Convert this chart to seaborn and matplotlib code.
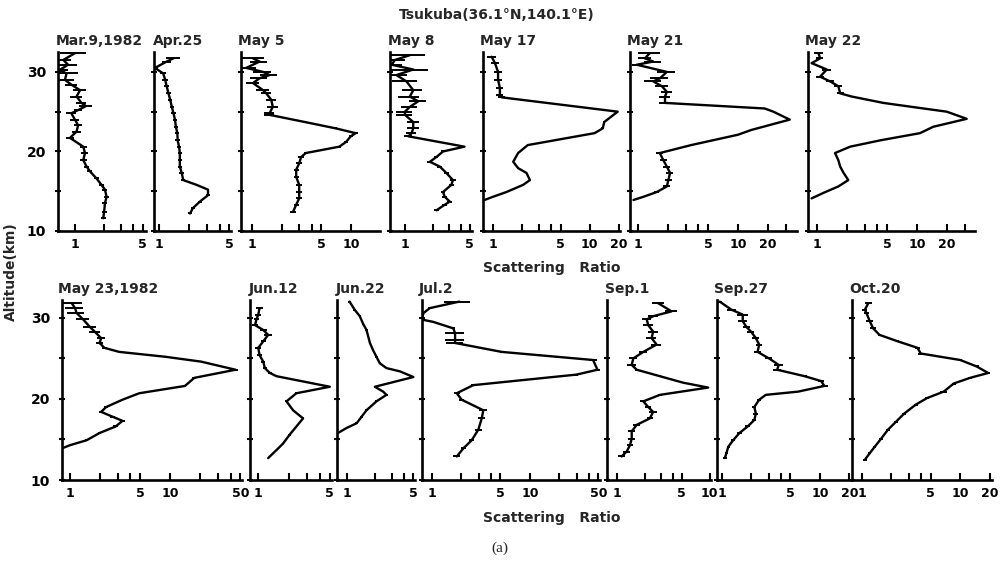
import numpy as np
import pandas as pd
import matplotlib
matplotlib.use("Agg")
import matplotlib.pyplot as plt
from matplotlib.ticker import FixedLocator, FixedFormatter
import seaborn as sns

# ---------------- lidar profiles: altitude (km), scattering ratio, relative error ----------------
mar9_alt = [32.35, 31.5, 30.9, 30.25, 29.8, 29.0, 28.4, 27.7, 26.9, 26.1, 25.7, 25.2, 24.8, 24.0, 23.3,
            22.5, 21.7, 20.6, 19.8, 18.9, 18.1, 17.5, 16.6, 15.8, 15.2, 14.3, 13.5, 12.4, 11.6]
mar9_ratio = [1.0, 0.76, 0.85, 0.70, 0.82, 0.79, 0.92, 1.13, 1.04, 1.17, 1.30, 1.08, 0.92, 1.0, 1.08,
              1.04, 0.89, 1.22, 1.27, 1.22, 1.32, 1.43, 1.67, 1.88, 2.04, 2.12, 2.04, 2.0, 1.96]
mar9_err = [0.3, 0.2, 0.25, 0.2, 0.3, 0.25, 0.15, 0.15, 0.15, 0.12, 0.15, 0.1, 0.12, 0.1, 0.1,
            0.1, 0.1, 0.08, 0.08, 0.08, 0.06, 0.06, 0.05, 0.05, 0.06, 0.06, 0.06, 0.06, 0.06]

apr25_alt = [31.7, 31.3, 30.5, 29.8, 29.0, 28.2, 27.3, 26.5, 25.6, 24.8, 24.0, 23.1, 22.3, 21.4, 20.6,
             19.8, 18.9, 18.1, 17.3, 16.4, 15.8, 15.2, 14.5, 13.7, 12.9, 12.2]
apr25_ratio = [1.39, 1.19, 0.91, 1.10, 1.15, 1.19, 1.24, 1.29, 1.34, 1.39, 1.44, 1.47, 1.52, 1.53, 1.58,
               1.61, 1.61, 1.61, 1.68, 1.74, 2.36, 3.07, 3.07, 2.55, 2.18, 2.03]
apr25_err = [0.15, 0.1, 0.08, 0.07, 0.06, 0.06, 0.05, 0.05, 0.05, 0.05, 0.05, 0.05, 0.05, 0.05, 0.05,
             0.05, 0.05, 0.05, 0.05, 0.05, 0.0, 0.0, 0.04, 0.05, 0.05, 0.05]

may5_alt = [31.7, 31.3, 30.5, 30.0, 29.6, 29.2, 28.6, 27.7, 27.3, 26.5, 25.6, 24.8, 24.6, 23.5, 22.9,
            22.3, 21.9, 21.2, 20.6, 19.8, 19.3, 18.5, 17.7, 16.8, 15.8, 14.9, 14.1, 13.3, 12.4]
may5_ratio = [1.03, 1.2, 0.88, 1.30, 1.51, 1.2, 1.03, 1.30, 1.40, 1.57, 1.63, 1.51, 1.51, 4.1, 7.0,
              11.1, 9.9, 8.9, 7.6, 3.5, 3.14, 3.0, 2.8, 2.8, 3.0, 3.0, 3.0, 2.8, 2.6]
may5_err = [0.3, 0.2, 0.25, 0.2, 0.2, 0.2, 0.15, 0.15, 0.12, 0.12, 0.12, 0.12, 0.12, 0.0, 0.03,
            0.06, 0.05, 0.05, 0.04, 0.04, 0.06, 0.06, 0.06, 0.06, 0.06, 0.06, 0.06, 0.06, 0.06]

may8_alt = [32.1, 31.5, 30.9, 30.3, 29.6, 28.8, 27.7, 26.9, 26.3, 25.6, 25.0, 24.6, 23.7, 22.9, 22.3,
            21.9, 20.6, 20.0, 19.3, 18.7, 18.1, 17.3, 16.4, 15.8, 14.9, 14.3, 13.7, 13.3, 12.6]
may8_ratio = [1.13, 0.78, 0.72, 1.23, 0.81, 1.04, 1.23, 1.13, 1.39, 1.13, 1.0, 1.0, 1.23, 1.23, 1.18,
              1.09, 4.4, 2.58, 2.19, 1.86, 2.38, 2.8, 3.3, 3.17, 2.58, 2.69, 3.05, 2.69, 2.19]
may8_err = [0.45, 0.3, 0.3, 0.45, 0.3, 0.3, 0.25, 0.25, 0.2, 0.2, 0.2, 0.2, 0.15, 0.15, 0.12,
            0.1, 0.0, 0.05, 0.05, 0.06, 0.06, 0.06, 0.07, 0.06, 0.06, 0.06, 0.06, 0.06, 0.06]

may17_alt = [31.9, 31.1, 30.0, 29.0, 28.0, 27.1, 26.8, 25.0, 23.7, 22.9, 22.3, 20.8, 19.8, 18.7,
             17.9, 17.3, 16.4, 15.8, 14.9, 14.3, 13.9]
may17_ratio = [0.97, 1.05, 1.13, 1.13, 1.18, 1.18, 1.23, 19.4, 14.1, 13.6, 11.2, 2.29, 1.82, 1.62,
               1.82, 2.22, 2.41, 2.05, 1.38, 1.0, 0.82]
may17_err = [0.1, 0.1, 0.1, 0.1, 0.08, 0.08, 0.08, 0.0, 0.03, 0.03, 0.0, 0.0, 0.0, 0.0,
             0.0, 0.0, 0.0, 0.0, 0.0, 0.0, 0.0]

may21_alt = [32.4, 31.7, 31.3, 30.9, 30.0, 29.2, 28.8, 28.2, 27.5, 26.9, 26.1, 25.4, 25.0, 24.0, 22.7,
             22.1, 20.8, 19.8, 18.9, 18.1, 17.3, 16.4, 15.6, 14.9, 14.3, 13.9]
may21_ratio = [1.32, 1.17, 1.42, 0.97, 1.94, 1.66, 1.42, 1.73, 1.94, 1.86, 1.86, 18.5, 22.6, 33.0, 13.6,
               10.0, 3.4, 1.65, 1.79, 1.94, 2.09, 2.01, 1.94, 1.54, 1.13, 0.9]
may21_err = [0.25, 0.15, 0.2, 0.1, 0.2, 0.2, 0.2, 0.15, 0.12, 0.12, 0.12, 0.0, 0.0, 0.0, 0.0,
             0.0, 0.0, 0.08, 0.08, 0.08, 0.08, 0.08, 0.08, 0.06, 0.0, 0.0]

may22_alt = [32.4, 31.7, 31.1, 30.3, 29.4, 28.8, 28.2, 27.3, 26.9, 26.1, 25.4, 25.0, 24.1, 23.1, 22.3,
             21.4, 20.6, 19.8, 18.9, 18.1, 17.3, 16.4, 15.6, 14.8, 14.1]
may22_ratio = [1.03, 1.07, 0.88, 1.25, 1.07, 1.35, 1.63, 1.70, 2.22, 4.6, 11.6, 19.8, 31.4, 14.5, 10.7,
               4.3, 2.14, 1.51, 1.63, 1.70, 1.84, 2.05, 1.63, 1.16, 0.88]
may22_err = [0.1, 0.08, 0.0, 0.1, 0.1, 0.1, 0.1, 0.08, 0.0, 0.0, 0.0, 0.0, 0.0, 0.0, 0.0,
             0.0, 0.0, 0.0, 0.0, 0.0, 0.0, 0.0, 0.0, 0.0, 0.0]

may23_alt = [31.8, 31.2, 30.6, 29.8, 28.9, 28.3, 27.5, 26.9, 26.3, 25.8, 25.2, 24.6, 23.6, 22.6, 21.6,
             20.7, 19.9, 19.0, 18.4, 17.8, 17.3, 16.6, 15.8, 14.9, 14.3, 13.9]
may23_ratio = [1.04, 1.12, 1.16, 1.35, 1.57, 1.76, 2.04, 1.97, 2.2, 3.09, 8.9, 20.3, 44.8, 17.4, 14.0,
               4.9, 3.33, 2.29, 2.04, 2.66, 3.33, 2.85, 1.97, 1.46, 1.0, 0.83]
may23_err = [0.25, 0.2, 0.2, 0.15, 0.15, 0.12, 0.1, 0.08, 0.06, 0.0, 0.0, 0.0, 0.05, 0.05, 0.0,
             0.0, 0.0, 0.05, 0.05, 0.05, 0.06, 0.05, 0.04, 0.04, 0.0, 0.0]

jun12_alt = [31.2, 30.4, 29.8, 29.1, 28.5, 27.9, 27.1, 26.3, 25.4, 24.6, 23.8, 23.2, 22.8, 21.5, 20.7,
             19.7, 18.6, 17.6, 16.6, 15.6, 14.5, 13.7, 12.7]
jun12_ratio = [1.04, 1.01, 0.97, 0.94, 1.13, 1.26, 1.13, 1.01, 1.04, 1.13, 1.17, 1.31, 1.52, 5.0, 2.37,
               1.90, 2.2, 2.75, 2.37, 2.04, 1.76, 1.52, 1.26]
jun12_err = [0.08, 0.06, 0.06, 0.06, 0.08, 0.08, 0.06, 0.06, 0.06, 0.05, 0.05, 0.04, 0.0, 0.0, 0.03,
             0.03, 0.0, 0.03, 0.0, 0.03, 0.0, 0.0, 0.0]

jun22_alt = [32.0, 31.0, 30.2, 29.3, 28.5, 27.7, 26.9, 26.0, 25.2, 24.4, 23.8, 23.4, 22.7, 21.5, 20.9,
             20.5, 19.7, 18.6, 17.8, 17.0, 16.4, 15.8]
jun22_ratio = [1.07, 1.21, 1.37, 1.48, 1.61, 1.68, 1.75, 1.89, 2.05, 2.22, 2.61, 3.61, 5.0, 1.97, 2.41,
               2.61, 2.05, 1.61, 1.43, 1.27, 0.99, 0.81]
jun22_err = [0.03, 0.03, 0.03, 0.03, 0.03, 0.03, 0.03, 0.03, 0.03, 0.03, 0.0, 0.0, 0.0, 0.03, 0.0,
             0.03, 0.03, 0.03, 0.03, 0.03, 0.0, 0.0]

jul2_alt = [32.0, 31.2, 30.6, 29.8, 29.5, 28.7, 28.1, 27.3, 26.9, 25.8, 24.8, 23.6, 23.0, 21.7, 20.7,
            19.9, 18.6, 17.6, 16.2, 14.9, 13.9, 12.9]
jul2_ratio = [1.9, 0.95, 0.82, 0.78, 1.03, 1.65, 1.72, 1.72, 1.72, 5.14, 44.2, 49.0, 30.0, 2.64, 1.79,
              2.01, 3.34, 3.22, 2.97, 2.54, 2.09, 1.79]
jul2_err = [0.3, 0.05, 0.0, 0.0, 0.0, 0.05, 0.22, 0.22, 0.2, 0.03, 0.1, 0.05, 0.03, 0.05, 0.07,
            0.06, 0.1, 0.08, 0.08, 0.06, 0.06, 0.08]

sep1_alt = [31.8, 30.8, 30.2, 29.8, 29.1, 28.3, 27.5, 26.7, 25.8, 25.0, 24.2, 23.6, 22.8, 22.0, 21.4,
            20.5, 19.7, 19.0, 18.4, 17.6, 16.8, 16.0, 15.1, 14.3, 13.5, 12.9]
sep1_ratio = [2.78, 3.87, 2.45, 2.09, 2.17, 2.45, 2.36, 2.67, 1.92, 1.50, 1.44, 1.63, 2.9, 5.17, 9.6,
              2.9, 1.92, 2.17, 2.45, 2.26, 1.63, 1.44, 1.44, 1.38, 1.27, 1.12]
sep1_err = [0.15, 0.15, 0.12, 0.1, 0.12, 0.12, 0.12, 0.12, 0.1, 0.1, 0.1, 0.05, 0.03, 0.0, 0.0,
            0.05, 0.08, 0.08, 0.1, 0.08, 0.08, 0.08, 0.08, 0.08, 0.08, 0.08]

sep27_alt = [32.0, 31.0, 30.4, 29.6, 28.9, 28.3, 27.5, 26.7, 25.8, 25.0, 24.2, 23.6, 22.8, 22.2, 21.6,
             20.9, 20.5, 19.9, 19.0, 18.2, 17.4, 16.6, 15.8, 14.9, 14.1, 13.3, 12.7]
sep27_ratio = [0.95, 1.25, 1.63, 1.63, 1.77, 1.98, 2.22, 2.40, 2.31, 3.02, 3.8, 3.66, 7.0, 10.3, 11.1,
               6.0, 2.8, 2.4, 2.14, 2.22, 2.14, 1.83, 1.51, 1.3, 1.16, 1.11, 1.07]
sep27_err = [0.05, 0.1, 0.12, 0.1, 0.08, 0.08, 0.08, 0.08, 0.08, 0.08, 0.1, 0.1, 0.05, 0.08, 0.08,
             0.0, 0.0, 0.05, 0.05, 0.06, 0.05, 0.05, 0.05, 0.05, 0.04, 0.04, 0.04]

oct20_alt = [31.8, 31.0, 30.6, 29.6, 28.7, 27.9, 27.1, 26.3, 25.6, 24.8, 24.0, 23.2, 22.6, 21.9, 20.9,
             20.1, 19.3, 18.2, 17.2, 16.2, 15.1, 14.1, 13.3, 12.5]
oct20_ratio = [1.17, 1.08, 1.12, 1.21, 1.31, 1.52, 2.33, 3.69, 3.98, 10.0, 14.7, 19.2, 12.6, 8.6, 6.8,
               4.6, 3.55, 2.71, 2.24, 1.85, 1.58, 1.36, 1.21, 1.08]
oct20_err = [0.08, 0.06, 0.06, 0.08, 0.08, 0.04, 0.04, 0.05, 0.06, 0.05, 0.05, 0.05, 0.05, 0.05, 0.08,
             0.05, 0.05, 0.05, 0.04, 0.04, 0.04, 0.04, 0.04, 0.04]

# panel titles, x ranges and labelled ticks
titles = ["Mar.9,1982", "Apr.25", "May 5", "May 8", "May 17", "May 21", "May 22",
          "May 23,1982", "Jun.12", "Jun.22", "Jul.2", "Sep.1", "Sep.27", "Oct.20"]
xlims = [(0.67, 5.4), (0.89, 5.2), (0.78, 19.5), (0.69, 5.3), (0.79, 20.5), (0.83, 39.0), (0.81, 38.0),
         (0.83, 52.0), (0.84, 5.25), (0.79, 5.2), (0.79, 52.0), (0.78, 10.3), (0.89, 20.3), (0.80, 21.0)]
xlabels = [[1, 5], [1, 5], [1, 5, 10, 20], [1, 5], [1, 5, 10, 20], [1, 5, 10, 20, 40], [1, 5, 10, 20, 40],
           [1, 5, 10, 50], [1, 5], [1, 5], [1, 5, 10, 50], [1, 5, 10], [1, 5, 10, 20], [1, 5, 10, 20]]
profiles = [
    (mar9_alt, mar9_ratio, mar9_err), (apr25_alt, apr25_ratio, apr25_err),
    (may5_alt, may5_ratio, may5_err), (may8_alt, may8_ratio, may8_err),
    (may17_alt, may17_ratio, may17_err), (may21_alt, may21_ratio, may21_err),
    (may22_alt, may22_ratio, may22_err), (may23_alt, may23_ratio, may23_err),
    (jun12_alt, jun12_ratio, jun12_err), (jun22_alt, jun22_ratio, jun22_err),
    (jul2_alt, jul2_ratio, jul2_err), (sep1_alt, sep1_ratio, sep1_err),
    (sep27_alt, sep27_ratio, sep27_err), (oct20_alt, oct20_ratio, oct20_err),
]
tick_values = [1, 2, 3, 4, 5, 10, 20, 30, 40, 50]

# ---------------- layout (pixel edges of each panel) ----------------
W, H = 1003, 567
row_edges = [(52, 231, 32.5), (300, 480, 32.2)]   # top px, bottom px, upper altitude
col_edges = [(58, 146), (154, 231), (241, 380), (390, 472), (483, 620), (630, 797), (808, 975),
             (62, 242), (250, 332), (337, 415), (422, 600), (607, 711), (717, 850), (852, 992)]

sns.set_theme(style="ticks")
plt.rcParams["font.family"] = ["DejaVu Sans"]
plt.rcParams["font.weight"] = "bold"

fig = plt.figure(figsize=(W / 100, H / 100), dpi=100)
fig.patch.set_facecolor("white")

for i, (alt, ratio, err) in enumerate(profiles):
    row = 0 if i < 7 else 1
    top, bot, ytop = row_edges[row]
    left, right = col_edges[i]
    ax = fig.add_axes([left / W, 1 - bot / H, (right - left) / W, (bot - top) / H])
    ax.set_facecolor("white")

    df = pd.DataFrame({"alt": alt, "ratio": ratio, "err": err})
    sns.lineplot(data=df, x="ratio", y="alt", orient="y", estimator=None, sort=True,
                 color="black", linewidth=1.7, ax=ax, legend=False)
    bars = df[df["err"] > 0]
    ax.errorbar(bars["ratio"], bars["alt"], xerr=bars["ratio"] * bars["err"], fmt="none",
                ecolor="black", elinewidth=1.4, capsize=0)

    ax.set_xscale("log")
    ax.set_xlim(*xlims[i])
    ax.set_ylim(10, ytop)
    ticks = [t for t in tick_values if xlims[i][0] <= t <= xlims[i][1] * 1.02]
    ax.xaxis.set_major_locator(FixedLocator(ticks))
    ax.xaxis.set_major_formatter(FixedFormatter([str(t) if t in xlabels[i] else "" for t in ticks]))
    ax.xaxis.set_minor_locator(FixedLocator([]))
    ax.set_yticks([10, 15, 20, 25, 30])
    if i in (0, 7):
        ax.set_yticklabels(["10", "", "20", "", "30"])
    else:
        ax.set_yticklabels([""] * 5)
    ax.tick_params(axis="x", direction="in", length=5, width=1.5, pad=5, labelsize=9, colors="black")
    ax.tick_params(axis="y", direction="inout", length=5, width=1.5, pad=6, labelsize=10, colors="black")
    for lab in ax.get_xticklabels() + ax.get_yticklabels():
        lab.set_fontweight("bold")
    sns.despine(ax=ax)
    for side in ("left", "bottom"):
        ax.spines[side].set_linewidth(1.9)
        ax.spines[side].set_color("black")
    ax.set_xlabel("")
    ax.set_ylabel("")
    ax.set_title(titles[i], loc="left", fontsize=10, fontweight="bold", pad=5, x=-0.02)

fig.text(497 / W, 1 - 15 / H, "Tsukuba(36.1°N,140.1°E)", ha="center", va="center",
         fontsize=10, fontweight="bold")
for ylab in (268, 518):
    fig.text(552 / W, 1 - ylab / H, "Scattering   Ratio", ha="center", va="center",
             fontsize=10, fontweight="bold")
fig.text(11 / W, 1 - 272 / H, "Altitude(km)", rotation=90, ha="center", va="center",
         fontsize=10, fontweight="bold")
fig.text(500 / W, 1 - 548 / H, "(a)", ha="center", va="center", fontsize=11,
         family="Liberation Serif", fontweight="normal")

fig.savefig("out.png", dpi=100, facecolor="white")
